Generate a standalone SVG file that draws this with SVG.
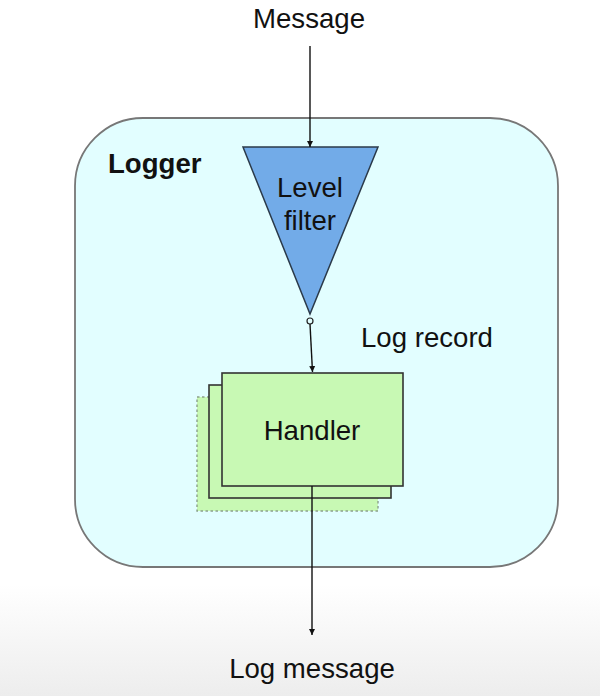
<svg xmlns="http://www.w3.org/2000/svg" width="600" height="696" viewBox="0 0 600 696">
  <defs>
    <linearGradient id="bg" x1="0" y1="0" x2="0" y2="1">
      <stop offset="0" stop-color="#ffffff"/>
      <stop offset="0.84" stop-color="#ffffff"/>
      <stop offset="1" stop-color="#ededed"/>
    </linearGradient>
    <marker id="arr" viewBox="0 0 10 10" refX="10" refY="5" markerWidth="6" markerHeight="7" orient="auto" markerUnits="userSpaceOnUse">
      <path d="M0,0 L10,5 L0,10 Z" fill="#111"/>
    </marker>
    <style>
      .t { font-family: "Liberation Sans", Arial, sans-serif; font-size: 27.6px; fill: #111; }
      .b { font-weight: bold; }
      .hnd { fill: #c8f9b4; stroke: #333; stroke-width: 1.6; }
      .conn { stroke: #111; stroke-width: 1.4; fill: none; }
    </style>
  </defs>
  <rect x="0" y="0" width="600" height="696" fill="url(#bg)"/>

  <g id="logger">
    <rect x="75" y="118" width="483" height="449" rx="68" ry="68" fill="#e2feff" stroke="#777" stroke-width="1.8"/>
    <text class="t b" x="108" y="173">Logger</text>
  </g>

  <g id="level-filter">
    <polygon points="243,147 378,147 310,314" fill="#72abe8" stroke="#2b3a4a" stroke-width="1.5"/>
    <text class="t" x="310" y="197" text-anchor="middle">Level</text>
    <text class="t" x="310" y="230" text-anchor="middle">filter</text>
    <circle cx="310" cy="321" r="3" fill="#e2feff" stroke="#222" stroke-width="1.2"/>
  </g>

  <g id="handler">
    <rect x="197" y="397" width="181" height="114" fill="#c8f9b4" stroke="#8aa08a" stroke-width="1.4" stroke-dasharray="2.5 2.5"/>
    <rect class="hnd" x="209" y="385" width="182" height="113"/>
    <rect class="hnd" x="222" y="373" width="181" height="113"/>
    <text class="t" x="312" y="440" text-anchor="middle">Handler</text>
  </g>

  <g id="labels">
    <text class="t" x="309" y="28" text-anchor="middle">Message</text>
    <text class="t" x="361" y="347">Log record</text>
    <text class="t" x="312" y="678" text-anchor="middle">Log message</text>
  </g>

  <g id="connectors">
    <line class="conn" x1="310" y1="46" x2="310" y2="147" marker-end="url(#arr)"/>
    <line class="conn" x1="310" y1="324" x2="312.5" y2="372" marker-end="url(#arr)"/>
    <line class="conn" x1="312" y1="486" x2="312" y2="635" marker-end="url(#arr)"/>
  </g>
</svg>
